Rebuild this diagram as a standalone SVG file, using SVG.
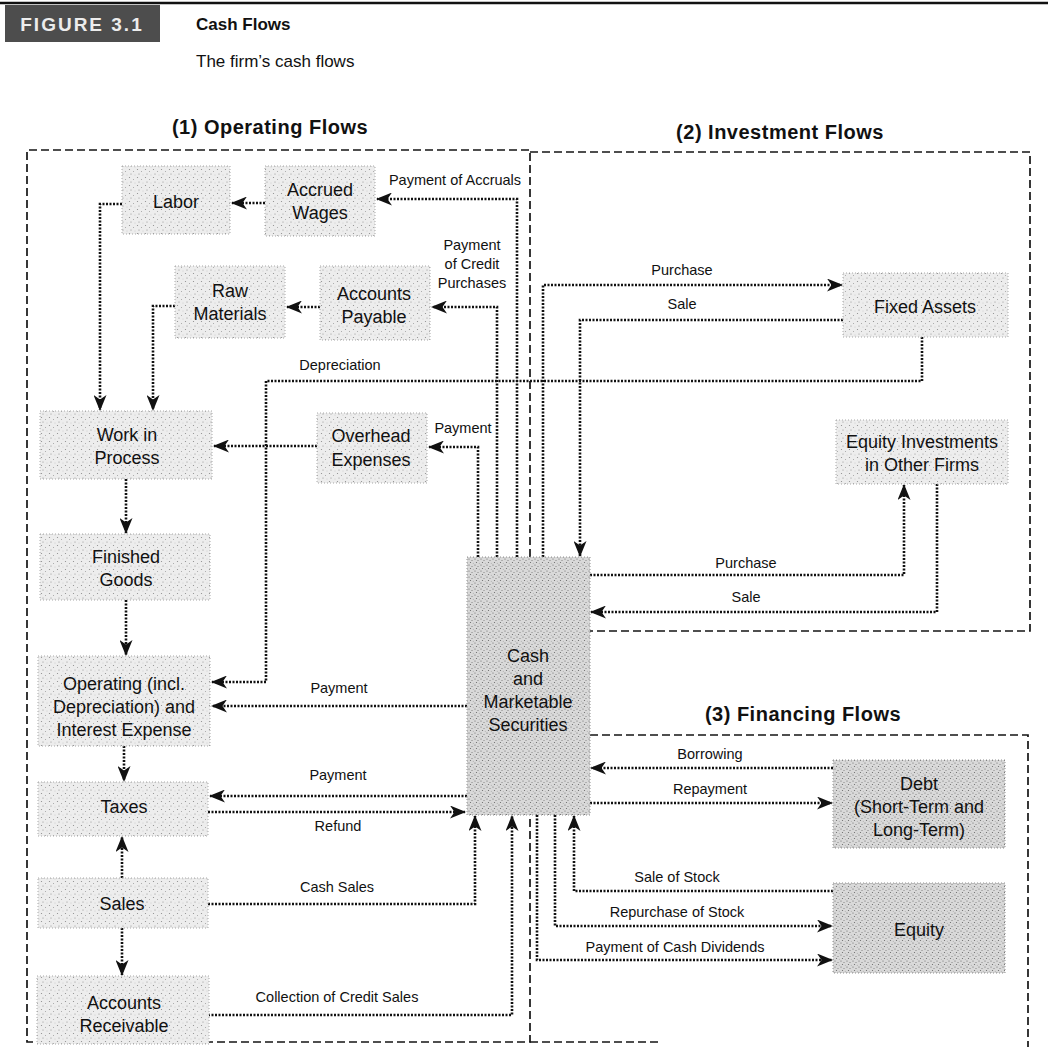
<svg xmlns="http://www.w3.org/2000/svg" width="1048" height="1047" viewBox="0 0 1048 1047">
<style>
  .bg{fill:#ffffff}
  .frame{fill:none;stroke:#151515;stroke-width:1.7;stroke-dasharray:8 4}
  .flow{fill:none;stroke:#111;stroke-width:2.6;stroke-dasharray:2 1.5}
  .node{fill:url(#stip);stroke:#a8a8a8;stroke-width:1;stroke-dasharray:1 2}
  .dark{fill:url(#stipDark);stroke:#909090;stroke-width:1;stroke-dasharray:1 2}
  .nt{font-family:"Liberation Sans",Arial,sans-serif;font-size:18px;fill:#111;text-anchor:middle}
  .lbl{font-family:"Liberation Sans",Arial,sans-serif;font-size:14.5px;fill:#111;text-anchor:middle}
  .sec{font-family:"Liberation Sans",Arial,sans-serif;font-size:20px;font-weight:bold;fill:#111;text-anchor:middle;letter-spacing:0.5px}
  .hd{font-family:"Liberation Sans",Arial,sans-serif;font-size:17px;fill:#111}
</style>
<defs>
  <pattern id="stip" width="8" height="8" patternUnits="userSpaceOnUse">
    <rect width="8" height="8" fill="#ededed"/>
    <circle cx="1.5" cy="1.5" r="0.6" fill="#8a8a8a"/>
    <circle cx="5.5" cy="3.5" r="0.5" fill="#9a9a9a"/>
    <circle cx="3" cy="6" r="0.55" fill="#8a8a8a"/>
    <circle cx="7" cy="7" r="0.4" fill="#aaaaaa"/>
  </pattern>
  <pattern id="stipDark" width="6" height="6" patternUnits="userSpaceOnUse">
    <rect width="6" height="6" fill="#d9d9d9"/>
    <circle cx="1" cy="1" r="0.6" fill="#666"/>
    <circle cx="4" cy="2.5" r="0.55" fill="#777"/>
    <circle cx="2.5" cy="4.5" r="0.6" fill="#666"/>
    <circle cx="5.2" cy="5.2" r="0.45" fill="#888"/>
  </pattern>
  <marker id="ah" viewBox="0 0 16 13" refX="15" refY="6.5" markerWidth="16" markerHeight="13" markerUnits="userSpaceOnUse" orient="auto">
    <path d="M0,0 L16,6.5 L0,13 L4.5,6.5 Z" fill="#111"/>
  </marker>
</defs>
<rect class="bg" x="0" y="0" width="1048" height="1047"/>

<g id="header">
  <line x1="0" y1="3" x2="1048" y2="3" stroke="#111" stroke-width="2.5"/>
  <rect x="5" y="5" width="155" height="37" fill="#4d4d4d"/>
  <text x="82" y="31" font-family="'Liberation Sans',Arial,sans-serif" font-size="19" font-weight="bold" fill="#ececec" text-anchor="middle" letter-spacing="2">FIGURE 3.1</text>
  <text class="hd" x="196" y="30" font-weight="bold">Cash Flows</text>
  <text class="hd" x="196" y="67">The firm’s cash flows</text>
</g>

<g id="sections">
  <text class="sec" x="270" y="134">(1) Operating Flows</text>
  <text class="sec" x="780" y="139">(2) Investment Flows</text>
  <text class="sec" x="803" y="721">(3) Financing Flows</text>
  <path class="frame" d="M530,557 V150 H27 V1042 H530 V815"/>
  <path class="frame" d="M530,152 H1030 V631 H590"/>
  <path class="frame" d="M590,735 H1028 V1047"/>
  <path class="frame" d="M530,1042 H660"/>
</g>

<g id="connectors">
  <path class="flow" marker-end="url(#ah)" d="M122,204 H100 V410"/>
  <path class="flow" marker-end="url(#ah)" d="M175,306 H153 V410"/>
  <path class="flow" marker-end="url(#ah)" d="M265,203 H232"/>
  <path class="flow" marker-end="url(#ah)" d="M320,307 H287"/>
  <path class="flow" marker-end="url(#ah)" d="M517,557 V199 H377"/>
  <path class="flow" marker-end="url(#ah)" d="M497,557 V307 H432"/>
  <path class="flow" marker-end="url(#ah)" d="M478,557 V447 H429"/>
  <path class="flow" marker-end="url(#ah)" d="M317,446 H214"/>
  <path class="flow" marker-end="url(#ah)" d="M922,337 V381 H266 V682 H212"/>
  <path class="flow" marker-end="url(#ah)" d="M126,479 V533"/>
  <path class="flow" marker-end="url(#ah)" d="M126,600 V655"/>
  <path class="flow" marker-end="url(#ah)" d="M467,706 H212"/>
  <path class="flow" marker-end="url(#ah)" d="M124,746 V781"/>
  <path class="flow" marker-end="url(#ah)" d="M467,796 H210"/>
  <path class="flow" marker-end="url(#ah)" d="M208,812 H465"/>
  <path class="flow" marker-end="url(#ah)" d="M122,878 V837"/>
  <path class="flow" marker-end="url(#ah)" d="M122,928 V975"/>
  <path class="flow" marker-end="url(#ah)" d="M208,904 H475 V816"/>
  <path class="flow" marker-end="url(#ah)" d="M208,1015 H512 V816"/>
  <path class="flow" marker-end="url(#ah)" d="M543,557 V285 H842"/>
  <path class="flow" marker-end="url(#ah)" d="M843,320 H580 V556"/>
  <path class="flow" marker-end="url(#ah)" d="M590,575 H904 V485"/>
  <path class="flow" marker-end="url(#ah)" d="M937,484 V612 H591"/>
  <path class="flow" marker-end="url(#ah)" d="M833,768 H591"/>
  <path class="flow" marker-end="url(#ah)" d="M590,803 H832"/>
  <path class="flow" marker-end="url(#ah)" d="M833,891 H574 V816"/>
  <path class="flow" marker-end="url(#ah)" d="M555,815 V926 H832"/>
  <path class="flow" marker-end="url(#ah)" d="M537,815 V960 H832"/>

  <text class="lbl" x="455" y="185">Payment of Accruals</text>
  <text class="lbl" x="472" y="250">Payment</text>
  <text class="lbl" x="472" y="269">of Credit</text>
  <text class="lbl" x="472" y="288">Purchases</text>
  <text class="lbl" x="340" y="370">Depreciation</text>
  <text class="lbl" x="463" y="433">Payment</text>
  <text class="lbl" x="339" y="693">Payment</text>
  <text class="lbl" x="338" y="780">Payment</text>
  <text class="lbl" x="338" y="831">Refund</text>
  <text class="lbl" x="337" y="892">Cash Sales</text>
  <text class="lbl" x="337" y="1002">Collection of Credit Sales</text>
  <text class="lbl" x="682" y="275">Purchase</text>
  <text class="lbl" x="682" y="309">Sale</text>
  <text class="lbl" x="746" y="568">Purchase</text>
  <text class="lbl" x="746" y="602">Sale</text>
  <text class="lbl" x="710" y="759">Borrowing</text>
  <text class="lbl" x="710" y="794">Repayment</text>
  <text class="lbl" x="677" y="882">Sale of Stock</text>
  <text class="lbl" x="677" y="917">Repurchase of Stock</text>
  <text class="lbl" x="675" y="952">Payment of Cash Dividends</text>
</g>

<g id="labor"><rect class="node" x="122" y="166" width="108" height="68"/><text class="nt" x="176" y="208">Labor</text></g>
<g id="accrued-wages"><rect class="node" x="265" y="166" width="110" height="70"/><text class="nt" x="320" y="196">Accrued</text><text class="nt" x="320" y="219">Wages</text></g>
<g id="raw-materials"><rect class="node" x="175" y="266" width="110" height="72"/><text class="nt" x="230" y="297">Raw</text><text class="nt" x="230" y="320">Materials</text></g>
<g id="accounts-payable"><rect class="node" x="320" y="266" width="110" height="74"/><text class="nt" x="374" y="300">Accounts</text><text class="nt" x="374" y="323">Payable</text></g>
<g id="work-in-process"><rect class="node" x="40" y="411" width="172" height="68"/><text class="nt" x="127" y="441">Work in</text><text class="nt" x="127" y="464">Process</text></g>
<g id="overhead-expenses"><rect class="node" x="317" y="413" width="110" height="70"/><text class="nt" x="371" y="442">Overhead</text><text class="nt" x="371" y="466">Expenses</text></g>
<g id="finished-goods"><rect class="node" x="40" y="534" width="170" height="66"/><text class="nt" x="126" y="563">Finished</text><text class="nt" x="126" y="586">Goods</text></g>
<g id="operating-expense"><rect class="node" x="38" y="656" width="172" height="90"/><text class="nt" x="124" y="690">Operating (incl.</text><text class="nt" x="124" y="713">Depreciation) and</text><text class="nt" x="124" y="736">Interest Expense</text></g>
<g id="taxes"><rect class="node" x="38" y="782" width="170" height="54"/><text class="nt" x="124" y="813">Taxes</text></g>
<g id="sales"><rect class="node" x="38" y="878" width="170" height="50"/><text class="nt" x="122" y="910">Sales</text></g>
<g id="accounts-receivable"><rect class="node" x="37" y="976" width="172" height="68"/><text class="nt" x="124" y="1009">Accounts</text><text class="nt" x="124" y="1032">Receivable</text></g>
<g id="cash"><rect class="dark" x="467" y="557" width="123" height="258"/><text class="nt" x="528" y="662">Cash</text><text class="nt" x="528" y="685">and</text><text class="nt" x="528" y="708">Marketable</text><text class="nt" x="528" y="731">Securities</text></g>
<g id="fixed-assets"><rect class="node" x="843" y="273" width="165" height="64"/><text class="nt" x="925" y="313">Fixed Assets</text></g>
<g id="equity-investments"><rect class="node" x="836" y="420" width="172" height="64"/><text class="nt" x="922" y="448">Equity Investments</text><text class="nt" x="922" y="471">in Other Firms</text></g>
<g id="debt"><rect class="dark" x="833" y="760" width="172" height="88"/><text class="nt" x="919" y="790">Debt</text><text class="nt" x="919" y="813">(Short-Term and</text><text class="nt" x="919" y="836">Long-Term)</text></g>
<g id="equity"><rect class="dark" x="833" y="883" width="172" height="90"/><text class="nt" x="919" y="936">Equity</text></g>
</svg>
